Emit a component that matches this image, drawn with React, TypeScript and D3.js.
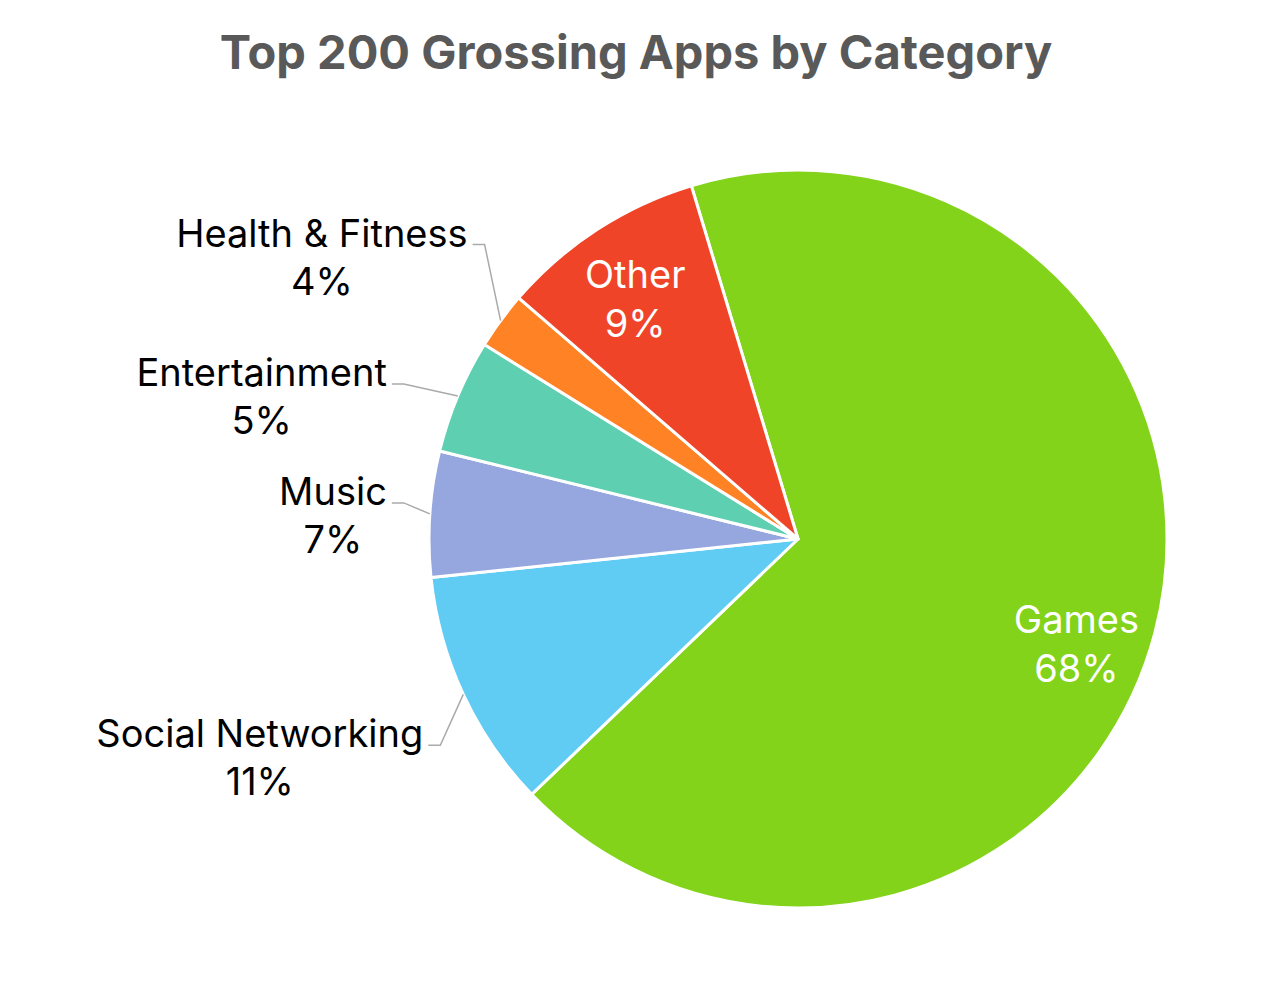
import React, { useEffect, useRef } from "react";
import * as d3 from "d3";

const categories = ["Games", "Social Networking", "Music", "Entertainment", "Health & Fitness", "Other"];
const shares = [67.5, 10.5, 5.5, 5.0, 2.5, 9.0];
const percentLabels = ["68%", "11%", "7%", "5%", "4%", "9%"];
const colors = ["#82D31A", "#60CBF3", "#96A6DE", "#5ECFB1", "#FF8224", "#F04428"];
const insideLabel = [true, false, false, false, false, true];
// elbow offsets (layout) for outside labels, relative to the slice's outer midpoint
const elbowOffsets: [number, number][] = [[0, 0], [-23, 51], [-26, -11], [-54, -12], [-16, -76], [0, 0]];
// inside label tweak (radius fraction, dy)
const insideLayout: [number, number][] = [[0.78, 21], [0, 0], [0, 0], [0, 0], [0, 0], [0.81, 0]];

const W = 1274, H = 994;
const CX = 798, CY = 539, R = 369;
const START = (-16.8 * Math.PI) / 180;
const FONT = "Inter, 'Noto Sans', sans-serif";
const LFS = 38;

export default function App() {
  const ref = useRef<SVGSVGElement>(null);
  useEffect(() => {
    const svg = d3.select(ref.current);
    svg.selectAll("*").remove();
    svg.append("rect").attr("width", W).attr("height", H).attr("fill", "#fff");
    svg.append("text")
      .attr("x", 636).attr("y", 69)
      .attr("text-anchor", "middle")
      .attr("font-family", FONT).attr("font-weight", 700).attr("font-size", 47)
      .attr("fill", "#595959")
      .text("Top 200 Grossing Apps by Category");

    const data = categories.map((c, i) => ({ c, v: shares[i], i }));
    const pie = d3.pie<any>().value((d) => d.v).sort(null)
      .startAngle(START).endAngle(START + 2 * Math.PI);
    const arcs = pie(data);
    const arc = d3.arc<any>().innerRadius(0).outerRadius(R);
    const g = svg.append("g").attr("transform", `translate(${CX},${CY})`);
    g.selectAll("path").data(arcs).join("path")
      .attr("d", arc as any)
      .attr("fill", (d: any) => colors[d.data.i])
      .attr("stroke", "#fff").attr("stroke-width", 3).attr("stroke-linejoin", "round");

    arcs.forEach((a: any) => {
      const i = a.data.i;
      const mid = (a.startAngle + a.endAngle) / 2;
      const sx = Math.sin(mid), sy = -Math.cos(mid);
      if (insideLabel[i]) {
        const [k, dy] = insideLayout[i];
        const x = sx * R * k, y = sy * R * k + dy;
        const t = g.append("text").attr("font-family", FONT).attr("font-size", LFS)
          .attr("fill", "#fff").attr("text-anchor", "middle");
        t.append("tspan").attr("x", x).attr("y", y).text(categories[i]);
        t.append("tspan").attr("x", x).attr("y", y + 49).text(percentLabels[i]);
      } else {
        const px = sx * R, py = sy * R;
        const [ox, oy] = elbowOffsets[i];
        const ex = px + ox, ey = py + oy;
        const hx = ex - 12;
        g.append("polyline")
          .attr("points", `${px},${py} ${ex},${ey} ${hx},${ey}`)
          .attr("fill", "none").attr("stroke", "#aaaaaa").attr("stroke-width", 1.5);
        const t = g.append("text").attr("font-family", FONT).attr("font-size", LFS)
          .attr("fill", "#000").attr("text-anchor", "middle");
        const n = t.append("tspan").attr("y", ey + 2).text(categories[i]);
        const w = (n.node() as SVGTextContentElement).getComputedTextLength();
        const cx = hx - 5 - w / 2;
        n.attr("x", cx);
        t.append("tspan").attr("x", cx).attr("y", ey + 50).text(percentLabels[i]);
      }
    });
  }, []);
  return <svg ref={ref} width={W} height={H} style={{ display: "block", position: "absolute", left: 0, top: 0 }} />;
}
